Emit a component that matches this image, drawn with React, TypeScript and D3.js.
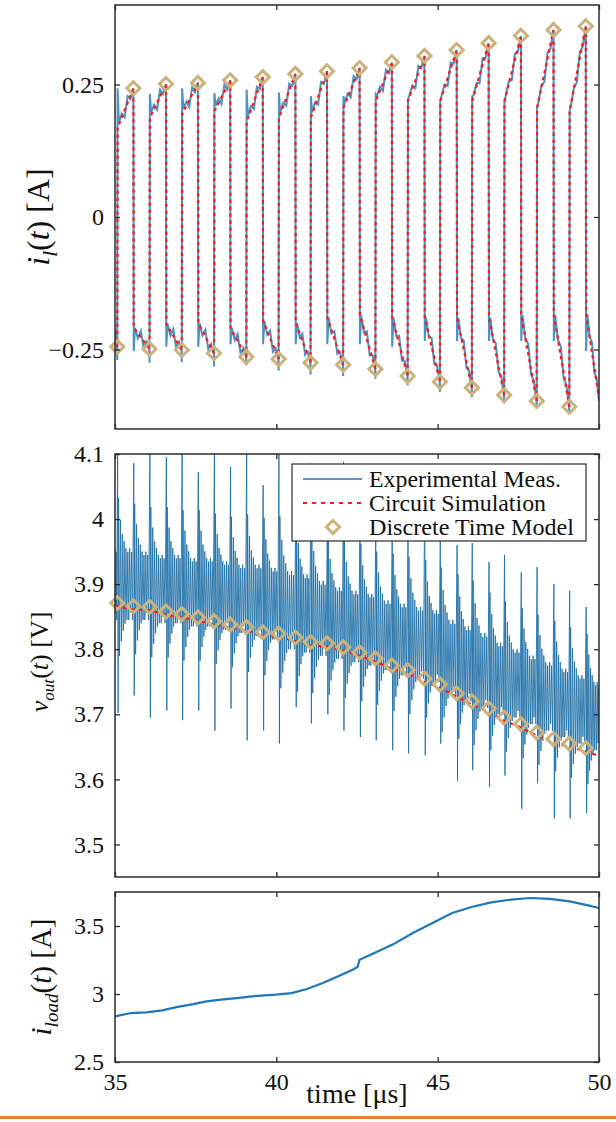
import React, { useRef, useEffect } from "react";
import * as d3 from "d3";

// ---- inductor current i_l(t): switching instants [us] and extremes [A]
const troughTime = [35.07, 36.07, 37.07, 38.07, 39.07, 40.07, 41.06, 42.07, 43.07, 44.07, 45.07, 46.06, 47.06, 48.07, 49.08];
const troughCurrent = [-0.245, -0.249, -0.251, -0.257, -0.264, -0.268, -0.275, -0.279, -0.287, -0.3, -0.311, -0.322, -0.336, -0.347, -0.358];
const peakTime = [35.57, 36.58, 37.57, 38.57, 39.58, 40.59, 41.57, 42.58, 43.58, 44.59, 45.59, 46.58, 47.58, 48.59, 49.59];
const peakCurrent = [0.243, 0.251, 0.253, 0.258, 0.264, 0.27, 0.275, 0.281, 0.292, 0.304, 0.315, 0.328, 0.342, 0.353, 0.36];
// simulated current right after the fast edges
const riseKnee = [0.168, 0.187, 0.194, 0.2, 0.18, 0.187, 0.187, 0.206, 0.219, 0.219, 0.219, 0.219, 0.219, 0.206, 0.2];
const fallKnee = [-0.209, -0.202, -0.2, -0.209, -0.196, -0.2, -0.19, -0.185, -0.19, -0.19, -0.19, -0.19, -0.185, -0.185, -0.183];
// measured overshoots
const measTroughMin = [-0.27, -0.275, -0.274, -0.282, -0.28, -0.29, -0.297, -0.3, -0.305, -0.318, -0.33, -0.34, -0.352, -0.362, -0.372];
const measRiseSpike = [0.243, 0.232, 0.243, 0.234, 0.24, 0.235, 0.228, 0.228, 0.232, 0.222, 0.219, 0.228, 0.215, 0.206, 0.2];
const measFallSpike = [-0.253, -0.245, -0.245, -0.24, -0.24, -0.24, -0.24, -0.24, -0.245, -0.234, -0.234, -0.234, -0.234, -0.234, -0.253];
const rampJag = [0.012, -0.01, 0.015, -0.006];
const ilStart = -0.23;
const ilEnd = -0.342;

// ---- output voltage v_out(t) [V], one value per switching event
const voutModel = [3.871, 3.866, 3.865, 3.858, 3.854, 3.849, 3.843, 3.838, 3.834, 3.826, 3.824, 3.818, 3.811, 3.809, 3.803, 3.795, 3.786, 3.775, 3.768, 3.755, 3.746, 3.732, 3.72, 3.709, 3.695, 3.685, 3.672, 3.662, 3.655, 3.648];
const voutSim = [3.866, 3.861, 3.86, 3.853, 3.849, 3.844, 3.838, 3.833, 3.829, 3.821, 3.819, 3.813, 3.806, 3.804, 3.798, 3.79, 3.781, 3.77, 3.763, 3.75, 3.741, 3.727, 3.715, 3.704, 3.69, 3.68, 3.667, 3.657, 3.65, 3.643];
const voutSimStart = 3.868;
const voutSimEnd = 3.636;
const voutSpikeHigh = [4.12, 4.086, 4.12, 4.095, 4.12, 4.072, 4.12, 4.08, 4.12, 4.052, 4.12, 4.02, 4.085, 4.0, 4.088, 4.0, 3.99, 3.99, 3.99, 4.08, 3.98, 3.96, 3.963, 3.934, 3.945, 3.918, 3.926, 3.9, 3.89, 3.865];
const voutSpikeLow = [3.702, 3.729, 3.695, 3.706, 3.691, 3.706, 3.675, 3.709, 3.66, 3.675, 3.655, 3.711, 3.686, 3.7, 3.675, 3.665, 3.66, 3.645, 3.64, 3.637, 3.655, 3.598, 3.614, 3.588, 3.606, 3.555, 3.594, 3.54, 3.54, 3.548];
const voutBandHigh = [3.955, 3.95, 3.945, 3.945, 3.94, 3.94, 3.935, 3.93, 3.93, 3.925, 3.92, 3.915, 3.905, 3.895, 3.89, 3.885, 3.875, 3.87, 3.865, 3.86, 3.845, 3.835, 3.825, 3.81, 3.8, 3.79, 3.78, 3.77, 3.76, 3.75];
const voutBandLow = [3.845, 3.845, 3.84, 3.84, 3.835, 3.835, 3.83, 3.825, 3.82, 3.815, 3.8, 3.795, 3.79, 3.785, 3.78, 3.775, 3.768, 3.76, 3.755, 3.75, 3.73, 3.72, 3.71, 3.7, 3.695, 3.685, 3.675, 3.665, 3.655, 3.645];
const ringing = [2.4, -2.0, 1.8, -1.6, 1.4, -1.3, 1.2, -1.1, 1.0, -1.0, 0.9, -1.0, 1.0, -0.8, 0.9, -1.0];

// ---- load current i_load(t) [A]
const loadTime = [35, 35.49, 35.97, 36.46, 36.94, 37.43, 37.79, 38.28, 38.77, 39.25, 39.98, 40.47, 40.95, 41.44, 41.92, 42.41, 42.52, 42.58, 43.02, 43.62, 44.23, 44.84, 45.45, 46.05, 46.66, 47.27, 47.87, 48.48, 49.09, 49.7, 50];
const loadCurrent = [2.836, 2.86, 2.865, 2.88, 2.905, 2.926, 2.944, 2.958, 2.97, 2.983, 2.995, 3.007, 3.037, 3.081, 3.13, 3.184, 3.2, 3.252, 3.3, 3.365, 3.449, 3.522, 3.596, 3.64, 3.674, 3.694, 3.706, 3.699, 3.681, 3.65, 3.632];

const xTicks = [35, 40, 45, 50];
const ilTicks = [-0.25, 0, 0.25];
const voutTicks = [3.5, 3.6, 3.7, 3.8, 3.9, 4, 4.1];
const loadTicks = [2.5, 3, 3.5];
const legendLabels = ["Experimental Meas.", "Circuit Simulation", "Discrete Time Model"];
const legendWidths = [192, 177, 205];

const FONT = "'Liberation Serif', 'Times New Roman', serif";
const BLUE = "#1f77b4";
const RED = "#ff1a1a";
const TAN = "#c9b27c";
const AX = "#2b2b2b";

type P = [number, number];

function App() {
  const svgRef = useRef<SVGSVGElement>(null);

  useEffect(() => {
    const svg = d3.select(svgRef.current);
    svg.selectAll("*").remove();

    const L = 115, R = 599;
    const x = d3.scaleLinear().domain([35, 50]).range([L, R]);
    const yIl = d3.scaleLinear().domain([-0.4, 0.4]).range([429, 5]);
    const yV = d3.scaleLinear().domain([3.45, 4.1]).range([877, 454]);
    const yLoad = d3.scaleLinear().domain([2.5, 3.75]).range([1062, 892]);

    const fmt = (d: number) => (d < 0 ? "\u2212" + Math.abs(d) : String(d));
    const defs = svg.append("defs");

    const panel = (y: d3.ScaleLinear<number, number>, id: string) => {
      const [b, t] = y.range();
      defs.append("clipPath").attr("id", id)
        .append("rect").attr("x", L).attr("y", t).attr("width", R - L).attr("height", b - t);
      return svg.append("g").attr("clip-path", `url(#${id})`);
    };

    const frame = (y: d3.ScaleLinear<number, number>, yTicks: number[], xLabels: boolean) => {
      const [b, t] = y.range();
      const g = svg.append("g");
      g.append("g").attr("transform", `translate(${L},0)`)
        .call(d3.axisLeft(y).tickValues(yTicks).tickSizeInner(-5).tickSizeOuter(0).tickPadding(11).tickFormat(fmt as any));
      g.append("g").attr("transform", `translate(${R},0)`)
        .call(d3.axisRight(y).tickValues(yTicks).tickSizeInner(-5).tickSizeOuter(0).tickFormat(() => ""));
      g.append("g").attr("transform", `translate(0,${b})`)
        .call(d3.axisBottom(x).tickValues(xTicks).tickSizeInner(-5).tickSizeOuter(0).tickPadding(11)
          .tickFormat(xLabels ? (d3.format("d") as any) : () => ""));
      g.append("g").attr("transform", `translate(0,${t})`)
        .call(d3.axisTop(x).tickValues(xTicks).tickSizeInner(-5).tickSizeOuter(0).tickFormat(() => ""));
      g.selectAll(".domain").remove();
      g.selectAll(".tick line").attr("stroke", AX).attr("stroke-width", 1.3);
      g.selectAll(".tick text").attr("fill", "#111")
        .style("font-family", FONT).style("font-size", "24px");
      g.append("rect").attr("x", L).attr("y", t).attr("width", R - L).attr("height", b - t)
        .attr("fill", "none").attr("stroke", AX).attr("stroke-width", 1.5);
    };

    const diamond = d3.symbol(d3.symbolDiamond2, 108);

    // ---------- panel 1: inductor current
    const simIl: P[] = [[35, ilStart]];
    const measIl: P[] = [[35, ilStart + 0.02]];
    troughTime.forEach((tt, k) => {
      const tp = peakTime[k];
      simIl.push([tt, troughCurrent[k]], [tt + 0.01, riseKnee[k]], [tp, peakCurrent[k]], [tp + 0.01, fallKnee[k]]);
      measIl.push([tt - 0.01, troughCurrent[k]], [tt, measTroughMin[k]], [tt + 0.01, measRiseSpike[k]], [tt + 0.05, riseKnee[k] + 0.01]);
      rampJag.forEach((j, i) => {
        const f = (i + 1) / (rampJag.length + 1);
        measIl.push([tt + 0.05 + f * (tp - tt - 0.05), riseKnee[k] + f * (peakCurrent[k] - riseKnee[k]) + j]);
      });
      measIl.push([tp, peakCurrent[k]], [tp + 0.01, measFallSpike[k]], [tp + 0.05, fallKnee[k]]);
      const nt = k + 1 < troughTime.length ? troughTime[k + 1] : 50;
      const nv = k + 1 < troughCurrent.length ? troughCurrent[k + 1] : ilEnd;
      rampJag.forEach((j, i) => {
        const f = (i + 1) / (rampJag.length + 1);
        measIl.push([tp + 0.05 + f * (nt - tp - 0.05), fallKnee[k] + f * (nv - fallKnee[k]) - j]);
      });
    });
    simIl.push([50, ilEnd]);
    measIl.push([50, ilEnd - 0.005]);

    const lineIl = d3.line<P>().x((d) => x(d[0])).y((d) => yIl(d[1]));
    const p1 = panel(yIl, "clip1");
    p1.append("path").attr("d", lineIl(measIl)).attr("fill", "none")
      .attr("stroke", BLUE).attr("stroke-width", 2).attr("stroke-opacity", 0.8);
    p1.append("path").attr("d", lineIl(simIl)).attr("fill", "none")
      .attr("stroke", RED).attr("stroke-width", 2.2).attr("stroke-dasharray", "3.5,3.5");
    const dtmIl: P[] = troughTime.flatMap((t, k) => [[t, troughCurrent[k]], [peakTime[k], peakCurrent[k]]] as P[]);
    svg.append("g").selectAll("path").data(dtmIl).join("path")
      .attr("d", diamond()).attr("transform", (d) => `translate(${x(d[0])},${yIl(d[1])})`)
      .attr("fill", "none").attr("stroke", TAN).attr("stroke-width", 3);
    frame(yIl, ilTicks, false);

    // ---------- panel 2: output voltage
    const events = troughTime.flatMap((t, k) => [t, peakTime[k]]);
    const measV: P[] = [];
    const c0 = (voutBandHigh[0] + voutBandLow[0]) / 2, h0 = (voutBandHigh[0] - voutBandLow[0]) / 2;
    ringing.slice(-4).forEach((r, i) => measV.push([35 + (i * (events[0] - 35)) / 4, c0 + r * h0]));
    events.forEach((t0, i) => {
      const t1 = i + 1 < events.length ? events[i + 1] : 50.05;
      const c = (voutBandHigh[i] + voutBandLow[i]) / 2;
      const h = (voutBandHigh[i] - voutBandLow[i]) / 2;
      measV.push([t0 + 0.012, voutSpikeHigh[i]], [t0 + 0.026, voutSpikeLow[i]]);
      const span = t1 - t0 - 0.04;
      ringing.forEach((r, j) => measV.push([t0 + 0.04 + (j * span) / ringing.length, c + r * h]));
    });
    const simV: P[] = [[35, voutSimStart], ...events.map((t, i) => [t, voutSim[i]] as P), [50, voutSimEnd]];

    const lineV = d3.line<P>().x((d) => x(d[0])).y((d) => yV(d[1]));
    const p2 = panel(yV, "clip2");
    p2.append("path").attr("d", lineV(measV)).attr("fill", "none")
      .attr("stroke", "#1b6da6").attr("stroke-width", 1).attr("stroke-opacity", 0.85);
    p2.append("path").attr("d", lineV(simV)).attr("fill", "none")
      .attr("stroke", RED).attr("stroke-width", 2.2).attr("stroke-dasharray", "4,4");
    svg.append("g").selectAll("path").data(events).join("path")
      .attr("d", diamond()).attr("transform", (t, i) => `translate(${x(t)},${yV(voutModel[i])})`)
      .attr("fill", "none").attr("stroke", TAN).attr("stroke-width", 3);
    frame(yV, voutTicks, false);

    // legend
    const lg = svg.append("g").attr("transform", "translate(292,464)");
    lg.append("rect").attr("width", 294).attr("height", 77).attr("fill", "#fff")
      .attr("stroke", AX).attr("stroke-width", 1.2);
    legendLabels.forEach((lab, i) => {
      const by = 23 + i * 24;
      const sy = by - 8;
      if (i === 0) lg.append("line").attr("x1", 11).attr("x2", 70).attr("y1", sy).attr("y2", sy)
        .attr("stroke", BLUE).attr("stroke-width", 1.5);
      if (i === 1) lg.append("line").attr("x1", 11).attr("x2", 70).attr("y1", sy).attr("y2", sy)
        .attr("stroke", RED).attr("stroke-width", 2).attr("stroke-dasharray", "4,5");
      if (i === 2) lg.append("path").attr("d", diamond()).attr("transform", `translate(41,${sy})`)
        .attr("fill", "none").attr("stroke", TAN).attr("stroke-width", 3);
      lg.append("text").attr("x", 77).attr("y", by).text(lab)
        .attr("textLength", legendWidths[i]).attr("lengthAdjust", "spacingAndGlyphs")
        .attr("font-family", FONT).attr("font-size", 24).attr("fill", "#111");
    });

    // ---------- panel 3: load current
    const loadPts: P[] = loadTime.map((t, i) => [t, loadCurrent[i]]);
    const lineLoad = d3.line<P>().x((d) => x(d[0])).y((d) => yLoad(d[1]));
    const p3 = panel(yLoad, "clip3");
    p3.append("path").attr("d", lineLoad(loadPts)).attr("fill", "none")
      .attr("stroke", BLUE).attr("stroke-width", 2.2);
    frame(yLoad, loadTicks, true);

    // axis labels
    const ylab = (cx: number, cy: number, size: number, main: string, sub: string, unit: string) => {
      const t = svg.append("text").attr("transform", `translate(${cx},${cy}) rotate(-90)`)
        .attr("text-anchor", "middle").attr("font-family", FONT).attr("font-size", size).attr("fill", "#111");
      t.append("tspan").attr("font-style", "italic").text(main);
      t.append("tspan").attr("font-style", "italic").attr("font-size", size * 0.66).attr("dy", size * 0.24).text(sub);
      t.append("tspan").attr("dy", -size * 0.24).text("(");
      t.append("tspan").attr("font-style", "italic").text("t");
      t.append("tspan").text(") [" + unit + "]");
    };
    ylab(49, 217, 32, "i", "l", "A");
    ylab(48, 662, 26, "v", "out", "V");
    ylab(51, 977, 29, "i", "load", "A");

    svg.append("text").attr("x", (L + R) / 2).attr("y", 1103).attr("text-anchor", "middle")
      .attr("font-family", FONT).attr("font-size", 28).attr("fill", "#111").text("time [\u03bcs]");

    svg.append("rect").attr("x", 0).attr("y", 1116).attr("width", 616).attr("height", 3).attr("fill", "#ed7d31");
  }, []);

  return (
    <svg ref={svgRef} width={616} height={1122}
      style={{ position: "absolute", left: 0, top: 0, background: "#fff" }} />
  );
}

export default App;
